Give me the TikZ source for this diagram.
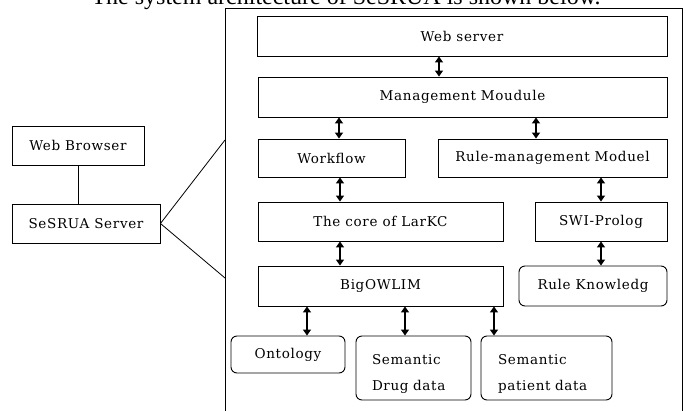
\documentclass[tikz,border=0pt]{standalone}
\usepackage{fontspec}
\setmainfont{Liberation Serif}
\newfontfamily\boxfont[LetterSpace=5]{DejaVu Serif}
\usetikzlibrary{arrows.meta}
\tikzset{box/.style={draw,line width=0.9pt,inner sep=0pt,font=\boxfont\fontsize{13.5}{26}\selectfont},
 rbox/.style={box,rounded corners=6pt},
 link/.style={draw,line width=0.8pt},
 biarrow/.style={line width=1.3pt,{Triangle[length=6pt,width=8pt]}-{Triangle[length=6pt,width=8pt]}},
 }

\begin{document}
\begin{tikzpicture}[x=1pt,y=-1pt]
    \clip (0,0) rectangle (686,410);
    \node[anchor=base west,font=\fontsize{24}{26}\selectfont] (title) at (88,4.5)
        {The system architecture of SeSRUA is shown below.};
    % server frame, open at the bottom
    \draw[line width=1pt] (225,420) -- (225,8) -- (682,8) -- (682,420);
    \coordinate (ftop) at (225,140);
    \coordinate (fbot) at (225,278);
    % left side
    \node[box,minimum width=132pt,minimum height=39pt] (wb) at (78,145.5) {Web Browser};
    \node[box,minimum width=148pt,minimum height=39pt] (ss) at (86,223.5) {SeSRUA Server};
    % modules
    \node[box,minimum width=410pt,minimum height=40pt] (ws) at (462,36) {Web server};
    \node[box,minimum width=409pt,minimum height=40pt] (mm) at (462.5,97) {Management Moudule};
    \node[box,minimum width=147pt,minimum height=38pt] (wf) at (331.5,158) {Workflow};
    \node[box,minimum width=229pt,minimum height=38pt] (rm) at (552.5,158) {Rule-management Moduel};
    \node[box,minimum width=245pt,minimum height=39pt] (core) at (380.5,221.5) {The core of LarKC};
    \node[box,minimum width=132pt,minimum height=39pt] (swi) at (601,221.5) {SWI-Prolog};
    \node[box,minimum width=245pt,minimum height=40pt] (big) at (380.5,286) {BigOWLIM};
    \node[rbox,minimum width=148pt,minimum height=40pt] (rk) at (593,286) {Rule Knowledg};
    % data stores
    \node[rbox,minimum width=114pt,minimum height=37pt] (ont) at (288,354.5) {Ontology};
    \node[rbox,minimum height=64pt,text width=83pt,inner xsep=16pt,align=left] (drug) at (413.5,368) {\rule{0pt}{22pt}Semantic\\Drug data};
    \node[rbox,minimum height=64pt,text width=97pt,inner xsep=17pt,align=left] (pat) at (546.5,368) {\rule{0pt}{22pt}Semantic\\patient data};
    % connections
    \draw[link] (wb.south) -- (wb.south |- ss.north);
    \draw[link] (ss.east) -- (ftop);
    \draw[link] (ss.east) -- (fbot);
    \draw[biarrow] ([xshift=-23pt]ws.south) -- ([xshift=-23pt]ws.south |- mm.north);
    \draw[biarrow] ([xshift=7.5pt]wf.north |- mm.south) -- ([xshift=7.5pt]wf.north);
    \draw[biarrow] ([xshift=-16.5pt]rm.north |- mm.south) -- ([xshift=-16.5pt]rm.north);
    \draw[biarrow] ([xshift=8.5pt]wf.south) -- ([xshift=8.5pt]wf.south |- core.north);
    \draw[biarrow] (swi.north |- rm.south) -- (swi.north);
    \draw[biarrow] ([xshift=-40.5pt]core.south) -- ([xshift=-40.5pt]core.south |- big.north);
    \draw[biarrow] (swi.south) -- (swi.south |- rk.north);
    \draw[biarrow] ([xshift=19pt]ont.north |- big.south) -- ([xshift=19pt]ont.north);
    \draw[biarrow] ([xshift=-8.5pt]drug.north |- big.south) -- ([xshift=-8.5pt]drug.north);
    \draw[biarrow] ([xshift=-52.5pt]pat.north |- big.south) -- ([xshift=-52.5pt]pat.north);
\end{tikzpicture}
\end{document}
